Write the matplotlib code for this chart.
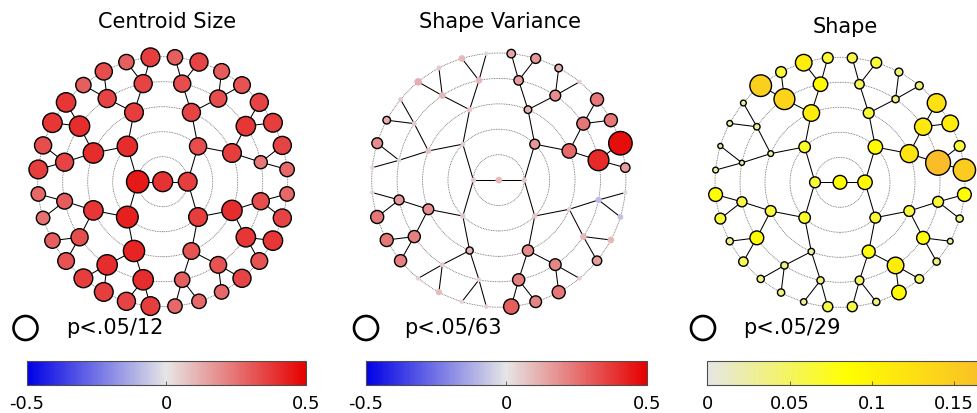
import numpy as np
import matplotlib.pyplot as plt
from matplotlib.colors import LinearSegmentedColormap, Normalize
from matplotlib.cm import ScalarMappable
from matplotlib.patches import Circle

plt.rcParams['axes.unicode_minus'] = False
plt.rcParams['font.family'] = 'DejaVu Sans'

W, H = 977, 413

titles = ['Centroid Size', 'Shape Variance', 'Shape']
thresholds = ['p<.05/12', 'p<.05/63', 'p<.05/29']

# node values of the binary tree, ring by ring (1, 2, 4, 8, 16, 32 nodes),
# counter-clockwise starting just right of the bottom
centroid_size = [
    0.39,
    0.365, 0.445,
    0.365, 0.33, 0.40, 0.43,
    0.32, 0.40, 0.365, 0.35, 0.365, 0.40, 0.38, 0.42,
    0.29, 0.32, 0.38, 0.33, 0.24, 0.38, 0.33, 0.33,
    0.35, 0.35, 0.40, 0.35, 0.30, 0.33, 0.40, 0.40,
    0.27, 0.27, 0.27, 0.35, 0.32, 0.38, 0.35, 0.27,
    0.27, 0.35, 0.365, 0.35, 0.32, 0.30, 0.35, 0.29,
    0.365, 0.29, 0.33, 0.29, 0.38, 0.38, 0.33, 0.365,
    0.27, 0.25, 0.29, 0.32, 0.365, 0.365, 0.35, 0.365,
]

shape_variance = [
    0.10,
    0.07, 0.07,
    0.07, 0.17, 0.06, 0.07,
    0.20, 0.05, 0.27, 0.12, 0.07, 0.08, 0.19, 0.11,
    0.22, 0.21, 0.10, -0.09, 0.41, 0.24, 0.19, 0.16,
    0.10, 0.10, 0.06, 0.05, 0.17, 0.22, 0.06, 0.05,
    0.29, 0.21, 0.24, 0.05, 0.16, 0.10, -0.08, 0.03,
    0.16, 0.47, 0.24, 0.24, 0.05, 0.12, 0.17, 0.14,
    -0.03, 0.10, 0.06, 0.12, 0.06, 0.12, 0.19, 0.03,
    0.04, 0.24, 0.24, 0.22, 0.05, 0.09, 0.04, 0.05,
]
# 1 = significant (black outline)
shape_variance_sig = [
    0,
    0, 0,
    0, 1, 0, 0,
    1, 0, 1, 1, 0, 0, 1, 1,
    1, 1, 0, 0, 1, 1, 1, 1, 0, 0, 0, 0, 1, 1, 0, 0,
    1, 1, 1, 0, 1, 0, 0, 0, 1, 1, 1, 1, 0, 1, 1, 1,
    0, 0, 0, 0, 0, 1, 1, 0, 0, 1, 1, 1, 0, 0, 0, 0,
]

shape = [
    0.087,
    0.092, 0.065,
    0.065, 0.092, 0.070, 0.070,
    0.081, 0.065, 0.119, 0.065, 0.108, 0.027, 0.065, 0.032,
    0.049, 0.108, 0.081, 0.065, 0.17, 0.113, 0.038, 0.054,
    0.092, 0.140, 0.032, 0.022, 0.059, 0.087, 0.038, 0.038,
    0.059, 0.038, 0.092, 0.049, 0.038, 0.027, 0.038, 0.087,
    0.151, 0.065, 0.108, 0.124, 0.043, 0.043, 0.065, 0.059,
    0.065, 0.108, 0.065, 0.146, 0.027, 0.027, 0.022, 0.027,
    0.087, 0.065, 0.038, 0.054, 0.038, 0.038, 0.032, 0.059,
]

bwr = LinearSegmentedColormap.from_list(
    'bwr_gray', [(0.0, 0.0, 0.9), (0.9, 0.9, 0.9), (0.9, 0.0, 0.0)])
gyo = LinearSegmentedColormap.from_list(
    'gray_yellow', [(0.9, 0.9, 0.9), (1.0, 1.0, 0.0), (0.98, 0.74, 0.16)])

fig = plt.figure(figsize=(W / 100, H / 100), dpi=100)


def px_axes(left, top, width, height):
    return fig.add_axes([left / W, 1 - (top + height) / H, width / W, height / H])


def tree_layout(n):
    depth = np.floor(np.log2(np.arange(n) + 1)).astype(int)
    k = np.arange(n) - (2 ** depth - 1)
    ang = np.deg2rad(-90 + 360.0 / 2 ** depth * (k + 0.5))
    return depth * np.cos(ang), depth * np.sin(ang)


def draw_net(ax, vals, norm, cmap, vmax, sig=None):
    vals = np.asarray(vals)
    n = len(vals)
    x, y = tree_layout(n)
    for r in range(1, 6):
        ax.add_patch(Circle((0, 0), r, fill=False, ec='0.4', lw=0.6,
                            ls=(0, (1, 1)), zorder=1))
    for i in range(1, n):
        p = (i - 1) // 2
        ax.plot([x[p], x[i]], [y[p], y[i]], color='k', lw=0.75, zorder=2)
    if sig is None:
        sig = np.ones(n, dtype=bool)
    sig = np.asarray(sig, dtype=bool)
    diam = 1.08 * (2 + 21 * np.abs(vals) / vmax)          # pixels
    diam = np.where(sig, diam, np.maximum(diam, 4.5))
    s = (diam * 0.72) ** 2
    ax.scatter(x[~sig], y[~sig], s=s[~sig], c=vals[~sig], cmap=cmap, norm=norm,
               edgecolors='none', zorder=3)
    ax.scatter(x[sig], y[sig], s=s[sig], c=vals[sig], cmap=cmap, norm=norm,
               edgecolors='k', linewidths=1.0, zorder=4)
    ax.set_xlim(-6, 6)
    ax.set_ylim(-6, 6)
    ax.set_aspect('equal')
    ax.axis('off')


norm_d = Normalize(-0.5, 0.5)
norm_s = Normalize(0, 0.17)

ax1 = px_axes(12.7, 31.7, 300, 300)
draw_net(ax1, centroid_size, norm_d, bwr, 0.5)
ax2 = px_axes(346.3, 27.6, 305, 305)
draw_net(ax2, shape_variance, norm_d, bwr, 0.5, shape_variance_sig)
ax3 = px_axes(690, 32.3, 300, 300)
draw_net(ax3, shape, norm_s, gyo, 0.17)

# overlay in pixel coordinates for titles and legends
ov = fig.add_axes([0, 0, 1, 1], zorder=-1)
ov.set_xlim(0, W)
ov.set_ylim(H, 0)
ov.axis('off')

title_pos = [(167, 22), (500, 22), (845, 27)]
legend_x = [(25.5, 66), (366, 404), (703, 743)]
for t, (tx, ty) in zip(titles, title_pos):
    ov.text(tx, ty, t, ha='center', va='center', fontsize=15)
for lab, (cx, lx) in zip(thresholds, legend_x):
    ov.add_patch(Circle((cx, 328), 12, fill=False, ec='k', lw=1.9))
    ov.text(lx, 328, lab, ha='left', va='center', fontsize=15)

# colorbars
cb_specs = [
    (26.8, 279, norm_d, bwr, [-0.5, 0, 0.5]),
    (365.7, 281, norm_d, bwr, [-0.5, 0, 0.5]),
    (707.2, 280, norm_s, gyo, [0, 0.05, 0.1, 0.15]),
]
for left, width, norm, cmap, ticks in cb_specs:
    cax = px_axes(left, 361, width, 24)
    cb = fig.colorbar(ScalarMappable(norm=norm, cmap=cmap), cax=cax,
                      orientation='horizontal')
    cb.set_ticks(ticks)
    cb.set_ticklabels(['%g' % t for t in ticks])
    cb.outline.set_edgecolor('0.3')
    cb.outline.set_linewidth(0.8)
    cax.tick_params(direction='in', length=3, width=0.6, labelsize=13, pad=7,
                    color='0.3')

fig.savefig('out.png', dpi=100)
